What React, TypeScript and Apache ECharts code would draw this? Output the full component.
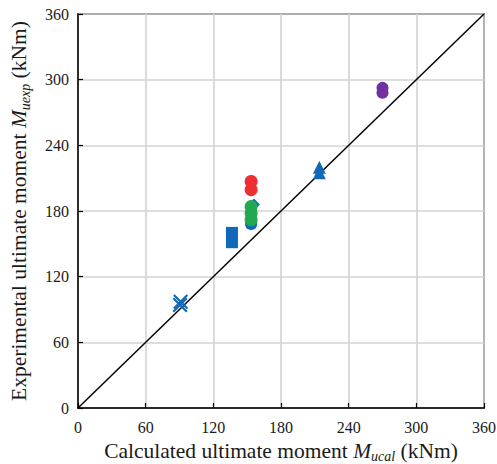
import React, { useEffect, useRef } from "react";
import * as echarts from "echarts";

const axisTicks = [0, 60, 120, 180, 240, 300, 360];
const crossPts = [[90.5, 94], [91, 97]];
const squarePts = [[136.5, 151.5], [136.5, 160]];
const bluePts = [[153.5, 168]];
const blueDiamondPts = [[156, 186]];
const trianglePts = [[214, 215], [214, 220]];
const redPts = [[153.5, 199.5], [153.5, 207]];
const greenPts = [[153.5, 172], [153.5, 178], [153.5, 184]];
const purplePts = [[270, 288], [270, 292.5]];
const diagonal = [[0, 0], [360, 360]];

const BLUE = "#1268B8";
const FONT = "'Liberation Serif', 'Times New Roman', serif";
const CROSS = "path://M2,0 L10,8 L18,0 L20,2 L12,10 L20,18 L18,20 L10,12 L2,20 L0,18 L8,10 L0,2 Z";
const TXT = "#1a1a1a";

export default function App() {
  const ref = useRef<HTMLDivElement>(null);
  useEffect(() => {
    const chart = echarts.init(ref.current!, undefined, { renderer: "svg" });
    const richName = {
      a: { fontFamily: FONT, fontSize: 21.5, color: TXT, lineHeight: 24, verticalAlign: "bottom" },
      m: { fontFamily: FONT, fontSize: 21.5, fontStyle: "italic", color: TXT, lineHeight: 24, verticalAlign: "bottom" },
      s: { fontFamily: FONT, fontSize: 14, fontStyle: "italic", color: TXT, lineHeight: 24, verticalAlign: "bottom", padding: [0, 0, -2, 0] },
    };
    const axisCommon = {
      type: "value",
      min: 0,
      max: 360,
      interval: 60,
      axisLine: { show: true, lineStyle: { color: "#000", width: 1.5 } },
      axisTick: { show: true, inside: true, length: 5, lineStyle: { color: "#000", width: 1.2 } },
      splitLine: { show: true, lineStyle: { color: "#d3d3d3", width: 1.6 } },
      axisLabel: { color: TXT, fontFamily: FONT, fontSize: 16 },
      nameLocation: "middle",
    };
    const sc = (data: number[][], symbol: string, color: string, size: any, z = 3) => ({
      type: "scatter",
      data,
      symbol,
      symbolSize: size,
      itemStyle: { color, opacity: 1 },
      z,
    });
    chart.setOption({
      animation: false,
      grid: {
        left: 78, right: 13, top: 14, bottom: 56,
        outerBoundsMode: "none",
        containLabel: false,
        show: true, borderColor: "#000", borderWidth: 1.5, backgroundColor: "transparent",
      },
      xAxis: {
        ...axisCommon,
        axisLabel: { ...axisCommon.axisLabel, margin: 11 },
        name: "{a|Calculated ultimate moment }{m|M}{s|ucal}{a| (kNm)}",
        nameGap: 28,
        nameTextStyle: { rich: richName },
      },
      yAxis: {
        ...axisCommon,
        axisLabel: { ...axisCommon.axisLabel, margin: 9 },
        name: "{a|Experimental ultimate moment }{m|M}{s|uexp}{a| (kNm)}",
        nameGap: 48,
        nameRotate: 90,
        nameTextStyle: { rich: richName },
      },
      series: [
        {
          type: "line",
          data: diagonal,
          symbol: "none",
          lineStyle: { color: "#000", width: 1.5 },
          z: 2,
        },
        sc(crossPts, CROSS, BLUE, 15),
        sc(squarePts, "rect", BLUE, [12, 12]),
        sc(bluePts, "circle", BLUE, 12),
        sc(blueDiamondPts, "diamond", BLUE, 12),
        sc(trianglePts, "triangle", BLUE, [13, 13]),
        sc(redPts, "circle", "#EE2E31", 13, 4),
        sc(greenPts, "circle", "#22A94F", 13, 4),
        sc(purplePts, "circle", "#7132A0", 12, 4),
      ],
    });
    return () => chart.dispose();
  }, []);
  return <div ref={ref} style={{ width: 497, height: 464, position: "absolute", left: 0, top: 0 }} />;
}
